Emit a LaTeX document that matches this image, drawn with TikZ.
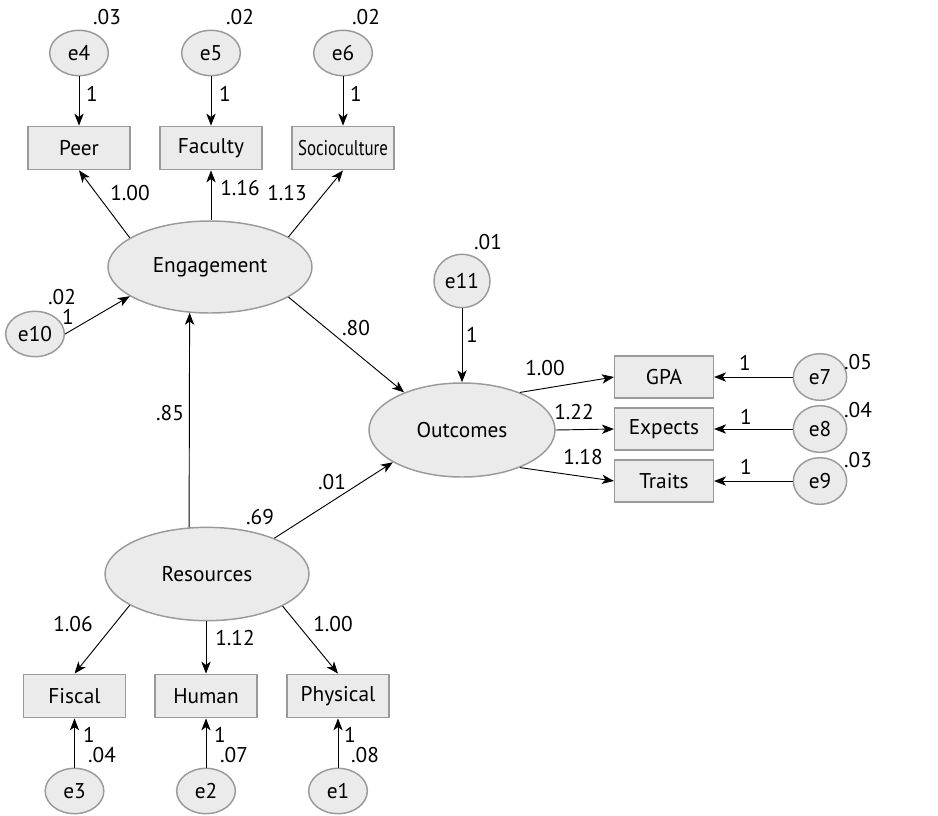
\documentclass[tikz,border=0pt]{standalone}
\usepackage{fontspec}
\setmainfont{PT Sans}
\usepackage{graphicx}
\usetikzlibrary{arrows.meta, shapes.geometric}
\definecolor{semfill}{HTML}{EBEBEB}
\definecolor{semline}{HTML}{9A9A9A}
\tikzset{
	latent/.style={
		draw=semline,
		fill=semfill,
		ellipse,
		line width=1.1pt,
		inner sep=0pt,
		minimum width=153pt,
		minimum height=69pt
	},
	errvar/.style={
		latent,
		minimum width=44pt,
		minimum height=34pt
	},
	observed/.style={
		draw=semline,
		fill=semfill,
		rectangle,
		line width=1.1pt,
		inner sep=0pt,
		minimum width=76.5pt,
		minimum height=32.5pt
	},
	coef/.style={inner sep=0pt}
}

\begin{document}
\begin{tikzpicture}[x=0.75pt, y=-0.75pt, font=\fontsize{16}{18}\selectfont]
	\useasboundingbox (0,0) rectangle (938,815);

	% latent variables
	\node[latent] (engagement) at (210,267) {Engagement};
	\node[latent, minimum width=139.5pt, minimum height=70.5pt] (outcomes) at (462,430) {Outcomes};
	\node[latent, minimum height=70pt] (resources) at (207,574) {Resources};

	% indicators
	\node[observed] (peer) at (79,148) {Peer};
	\node[observed] (faculty) at (211,148) {Faculty};
	\node[observed] (socio) at (343,148) {\scalebox{0.79}[1]{Socioculture}};
	\begin{scope}[every node/.style={observed, minimum width=74pt, minimum height=31.5pt}]
	\node (gpa) at (664,377) {GPA};
	\node (expects) at (664,429) {Expects};
	\node (traits) at (664,481) {Traits};
	\end{scope}
	\node[observed] (fiscal) at (74.5,696) {Fiscal};
	\node[observed] (human) at (206,696) {Human};
	\node[observed] (physical) at (338,696) {Physical};

	% error terms
	\node[errvar] (e4) at (79,53) {e4};
	\node[errvar] (e5) at (211,53) {e5};
	\node[errvar] (e6) at (343,53) {e6};
	\node[errvar] (e10) at (35,334) {e10};
	\node[errvar, minimum width=42pt, minimum height=40pt] (e11) at (462,281) {e11};
	\node[errvar, minimum width=40pt, minimum height=35pt] (e7) at (820,377) {e7};
	\node[errvar, minimum width=40pt, minimum height=35pt] (e8) at (820,429) {e8};
	\node[errvar, minimum width=40pt, minimum height=35pt] (e9) at (820,481) {e9};
	\node[errvar] (e3) at (74.5,791) {e3};
	\node[errvar] (e2) at (206,791) {e2};
	\node[errvar] (e1) at (338,791) {e1};

	% paths
	\begin{scope}[line width=0.7pt, -{Stealth[length=9pt, width=7pt, inset=2.5pt]}]
	% measurement: engagement
	\draw (engagement.160) -- (peer.south);
	\draw (engagement.north -| faculty) -- (faculty.south);
	\draw (engagement.21) -- (socio.south);
	% measurement: resources
	\draw (resources.202) -- (fiscal.north);
	\draw (resources.south -| human) -- (human.north);
	\draw (resources.-23) -- (physical.north);
	% measurement: outcomes
	\draw (outcomes.33) -- (gpa.west);
	\draw (outcomes.east) -- (expects.west);
	\draw (outcomes.-33) -- (traits.west);
	% structural
	\draw (resources.111) -- (engagement.246);
	\draw (resources.28) -- (outcomes.205);
	\draw (engagement.-21) -- (outcomes.147);
	% errors
	\draw (e4.south) -- (peer.north);
	\draw (e5.south) -- (faculty.north);
	\draw (e6.south) -- (socio.north);
	\draw (e10.east) -- (engagement.200);
	\draw (e11.south) -- (outcomes.north);
	\draw (e7.west) -- (gpa.east);
	\draw (e8.west) -- (expects.east);
	\draw (e9.west) -- (traits.east);
	\draw (e3.north) -- (fiscal.south);
	\draw (e2.north) -- (human.south);
	\draw (e1.north) -- (physical.south);
	\end{scope}

	% coefficients
	\begin{scope}[every node/.style={coef}]
	\node (peerw) at (130,193) {1.00};
	\node (facultyw) at (240,188) {1.16};
	\node (sociow) at (287,193) {1.13};
	\node (fiscalw) at (73,624) {1.06};
	\node (humanw) at (235,638) {1.12};
	\node (physicalw) at (333,624) {1.00};
	\node (gpaw) at (545,368) {1.00};
	\node (expectsw) at (574,412) {1.22};
	\node (traitsw) at (583,457) {1.18};
	\node (engoutw) at (356,328) {.80};
	\node (resengw) at (170,413) {.85};
	\node (resoutw) at (332,482) {.01};
	\node (resvar) at (260,517) {.69};
	% error weights and variances
	\node (e4w) at (92,94) {1};
	\node (e5w) at (225,94) {1};
	\node (e6w) at (356,94) {1};
	\node (e4var) at (107,17) {.03};
	\node (e5var) at (240,17) {.02};
	\node (e6var) at (366,17) {.02};
	\node (e10var) at (62,297) {.02};
	\node (e10w) at (68,317) {1};
	\node (e11var) at (488,242) {.01};
	\node (e11w) at (472,335) {1};
	\node (e7w) at (745,363) {1};
	\node (e8w) at (746,417) {1};
	\node (e9w) at (746,467) {1};
	\node (e7var) at (858,362) {.05};
	\node (e8var) at (858,410) {.04};
	\node (e9var) at (858,460) {.03};
	\node (e3w) at (89,735) {1};
	\node (e2w) at (220,735) {1};
	\node (e1w) at (350,735) {1};
	\node (e3var) at (102,755) {.04};
	\node (e2var) at (234,755) {.07};
	\node (e1var) at (365,755) {.08};
	\end{scope}
\end{tikzpicture}
\end{document}
